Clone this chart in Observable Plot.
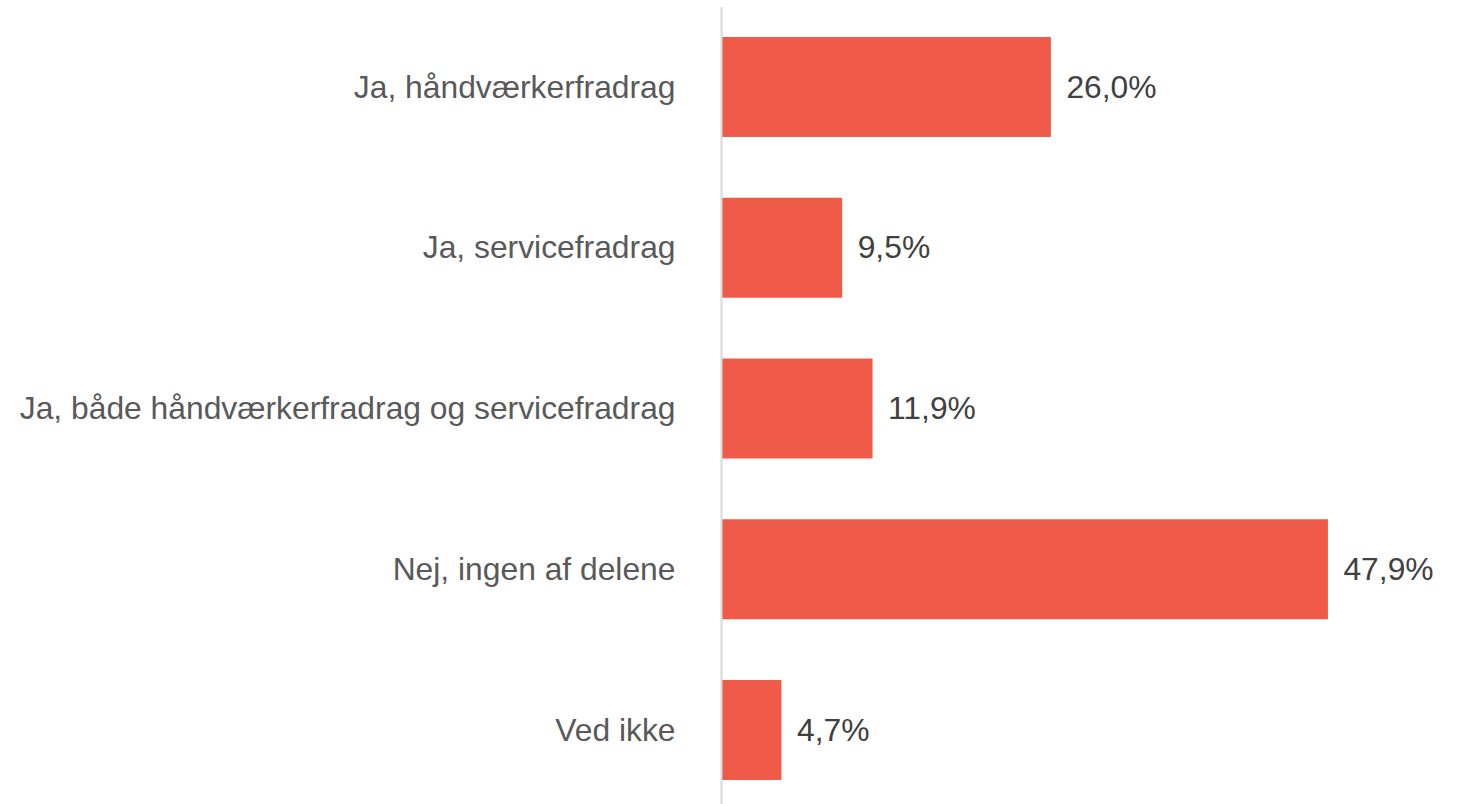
<!DOCTYPE html>
<html>
<head>
<meta charset="utf-8">
<script src="https://cdn.jsdelivr.net/npm/d3@7"></script>
<script src="https://cdn.jsdelivr.net/npm/@observablehq/plot@0.6"></script>
<style>
  html, body { margin: 0; padding: 0; background: #fff; }
  #chart svg { display: block; }
</style>
</head>
<body>
<div id="chart"></div>
<script>
const categories = [
  "Ja, håndværkerfradrag",
  "Ja, servicefradrag",
  "Ja, både håndværkerfradrag og servicefradrag",
  "Nej, ingen af delene",
  "Ved ikke"
];
const values = [26.0, 9.5, 11.9, 47.9, 4.7];
const valueLabels = ["26,0%", "9,5%", "11,9%", "47,9%", "4,7%"];

const data = categories.map((c, i) => ({cat: c, v: values[i], label: valueLabels[i]}));

const chart = Plot.plot({
  width: 1460,
  height: 804,
  marginLeft: 722,
  marginRight: 105.5,
  marginTop: 7,
  marginBottom: 0,
  style: {fontFamily: "'Liberation Sans', Arial, sans-serif", background: "#fff"},
  x: {domain: [0, 50], axis: null},
  y: {domain: categories, range: [6.6, 810.4], round: false, paddingInner: 0.378, paddingOuter: 0.189, align: 0.5,
      label: null},
  marks: [
    Plot.barX(data, {x: "v", y: "cat", fill: "#EF5B48"}),
    Plot.ruleX([0], {stroke: "#d9d9d9", strokeWidth: 2, dx: -1}),
    Plot.axisY({tickSize: 0, tickPadding: 47, fontSize: 31.8, fill: "#595959", label: null}),
    Plot.text(data, {x: "v", y: "cat", text: "label", textAnchor: "start", dx: 15,
      fontSize: 31.8, fill: "#404040"})
  ]
});
document.getElementById("chart").appendChild(chart);
</script>
</body>
</html>
